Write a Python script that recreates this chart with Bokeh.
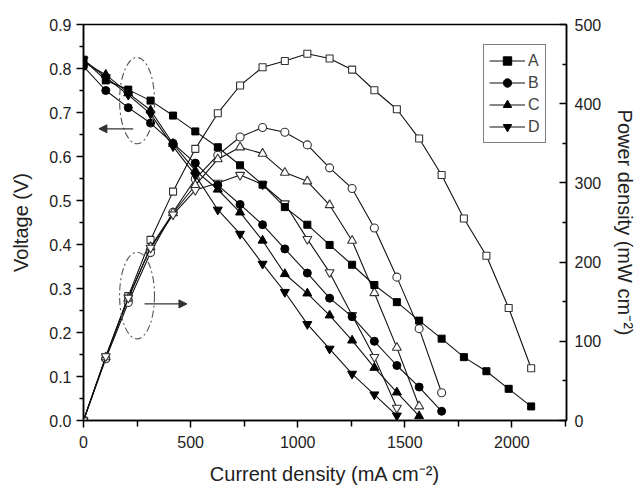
from bokeh.plotting import figure
from bokeh.models import (Range1d, LinearAxis, FixedTicker, PrintfTickFormatter,
                          Legend, LegendItem, Arrow, NormalHead)
from bokeh.embed import file_html
from bokeh.resources import INLINE

# ---- data ----
current = [0, 104, 209, 313, 418, 522, 627, 731, 836, 940, 1045, 1149, 1254,
           1358, 1463, 1567, 1672, 1776, 1881, 1985, 2090]

A_v = [0.820, 0.773, 0.752, 0.727, 0.693, 0.657, 0.621, 0.580, 0.536, 0.485, 0.445,
       0.399, 0.354, 0.308, 0.269, 0.227, 0.186, 0.144, 0.112, 0.072, 0.032]
A_p = [0, 80, 157, 228, 289, 343, 388, 423, 446, 454, 463, 457, 443, 417, 393,
       356, 310, 255, 208, 142, 66]
B_v = [0.805, 0.750, 0.711, 0.676, 0.630, 0.585, 0.535, 0.491, 0.445, 0.390, 0.335,
       0.278, 0.236, 0.180, 0.125, 0.076, 0.021]
B_p = [0, 78, 149, 212, 263, 305, 335, 358, 370, 364, 348, 319, 293, 243, 181, 116, 35]
C_v = [0.815, 0.786, 0.744, 0.705, 0.629, 0.568, 0.525, 0.473, 0.409, 0.333, 0.289,
       0.239, 0.182, 0.120, 0.064, 0.010]
C_p = [0, 80, 154, 219, 262, 297, 330, 345, 337, 313, 302, 272, 227, 161, 92, 18]
D_v = [0.820, 0.780, 0.740, 0.697, 0.623, 0.557, 0.479, 0.424, 0.356, 0.292, 0.219,
       0.163, 0.106, 0.059, 0.011]
D_p = [0, 81, 155, 218, 260, 291, 300, 310, 298, 274, 229, 187, 133, 80, 16]

labels = ["A", "B", "C", "D"]

x_ticks = [0, 500, 1000, 1500, 2000]
v_ticks = [0.0, 0.1, 0.2, 0.3, 0.4, 0.5, 0.6, 0.7, 0.8, 0.9]
p_ticks = [0, 100, 200, 300, 400, 500]

# annotation ellipses / arrows (data coordinates)
ell_x = [250, 250]
ell_y = [0.727, 0.284]
ell_w = [163, 163]
ell_h = [0.196, 0.197]
arrow_left = dict(x0=232, x1=72, y=0.663)
arrow_right = dict(x0=285, x1=483, y=0.265)

FONT = "Liberation Sans"

p = figure(width=639, height=489, output_backend="svg", toolbar_location=None,
           x_range=Range1d(0, 2255), y_range=Range1d(0, 0.9),
           min_border_left=83, min_border_right=71, min_border_top=24,
           min_border_bottom=69)
p.xgrid.visible = False
p.ygrid.visible = False
p.outline_line_color = "black"
p.outline_line_width = 1.5
p.extra_y_ranges = {"power": Range1d(0, 500)}

def style_axis(ax):
    ax.axis_line_width = 1.5
    ax.axis_line_color = "black"
    ax.major_tick_line_width = 1.5
    ax.minor_tick_line_width = 1.5
    ax.major_tick_line_color = "black"
    ax.minor_tick_line_color = "black"
    ax.major_label_text_font = FONT
    ax.major_label_text_font_size = "16px"
    ax.major_label_text_color = "#222222"
    ax.axis_label_text_font = FONT
    ax.axis_label_text_font_size = "20px"
    ax.axis_label_text_font_style = "normal"
    ax.axis_label_text_color = "#222222"

xa = p.xaxis[0]
style_axis(xa)
xa.ticker = FixedTicker(ticks=x_ticks, minor_ticks=[250, 750, 1250, 1750, 2250])
xa.major_tick_out = 7
xa.major_tick_in = 0
xa.minor_tick_out = 6
xa.minor_tick_in = 0
xa.major_label_standoff = 8
xa.axis_label = "Current density (mA cm\u207b\u00b2)"
xa.axis_label_standoff = 12

ya = p.yaxis[0]
style_axis(ya)
ya.ticker = FixedTicker(ticks=v_ticks,
                        minor_ticks=[0.05, 0.15, 0.25, 0.35, 0.45, 0.55, 0.65, 0.75, 0.85])
ya.formatter = PrintfTickFormatter(format="%.1f")
ya.major_tick_out = 7
ya.major_tick_in = 0
ya.minor_tick_out = 4
ya.minor_tick_in = 0
ya.major_label_standoff = 5
ya.axis_label = "Voltage (V)"
ya.axis_label_standoff = 14

ra = LinearAxis(y_range_name="power")
style_axis(ra)
ra.ticker = FixedTicker(ticks=p_ticks, minor_ticks=[50, 150, 250, 350, 450])
ra.major_tick_out = 0
ra.major_tick_in = 7
ra.minor_tick_out = 0
ra.minor_tick_in = 4
ra.major_label_standoff = 8
ra.axis_label = "Power density (mW cm\u207b\u00b2)"
ra.axis_label_standoff = 10
p.add_layout(ra, "right")

volts = [A_v, B_v, C_v, D_v]
powers = [A_p, B_p, C_p, D_p]
markers = ["square", "circle", "triangle", "inverted_triangle"]
sizes = [7, 8, 9, 9]

items = []
for lab, v, pw, mk, sz in zip(labels, volts, powers, markers, sizes):
    xs = current[:len(v)]
    p.line(xs, pw, line_color="#111111", line_width=1.1, y_range_name="power")
    p.scatter(xs, pw, marker=mk, size=sz, fill_color="white",
              line_color="#333333", line_width=1.1, y_range_name="power")
for lab, v, pw, mk, sz in zip(labels, volts, powers, markers, sizes):
    xs = current[:len(v)]
    vl = p.line(xs, v, line_color="#111111", line_width=1.1)
    vs = p.scatter(xs, v, marker=mk, size=sz, fill_color="black", line_color="black")
    items.append(LegendItem(label=lab, renderers=[vl, vs]))

p.ellipse(x=ell_x, y=ell_y, width=ell_w, height=ell_h, fill_alpha=0,
          line_color="#555555", line_width=1.1, line_dash="7 3 2 3")

for a in (arrow_left, arrow_right):
    p.add_layout(Arrow(x_start=a["x0"], y_start=a["y"], x_end=a["x1"], y_end=a["y"],
                       line_color="#333333", line_width=1.3,
                       end=NormalHead(size=8, fill_color="#333333", line_color="#333333")))

legend = Legend(items=items, location=(400, 277))
legend.border_line_color = "black"
legend.border_line_width = 1
legend.background_fill_alpha = 1
legend.glyph_width = 36
legend.glyph_height = 21
legend.label_height = 21
legend.label_width = 11
legend.spacing = 1
legend.padding = 5
legend.margin = 0
legend.label_standoff = 3
legend.label_text_font = FONT
legend.label_text_font_size = "16px"
p.add_layout(legend)

open("out.html", "w").write(file_html(p, INLINE))
